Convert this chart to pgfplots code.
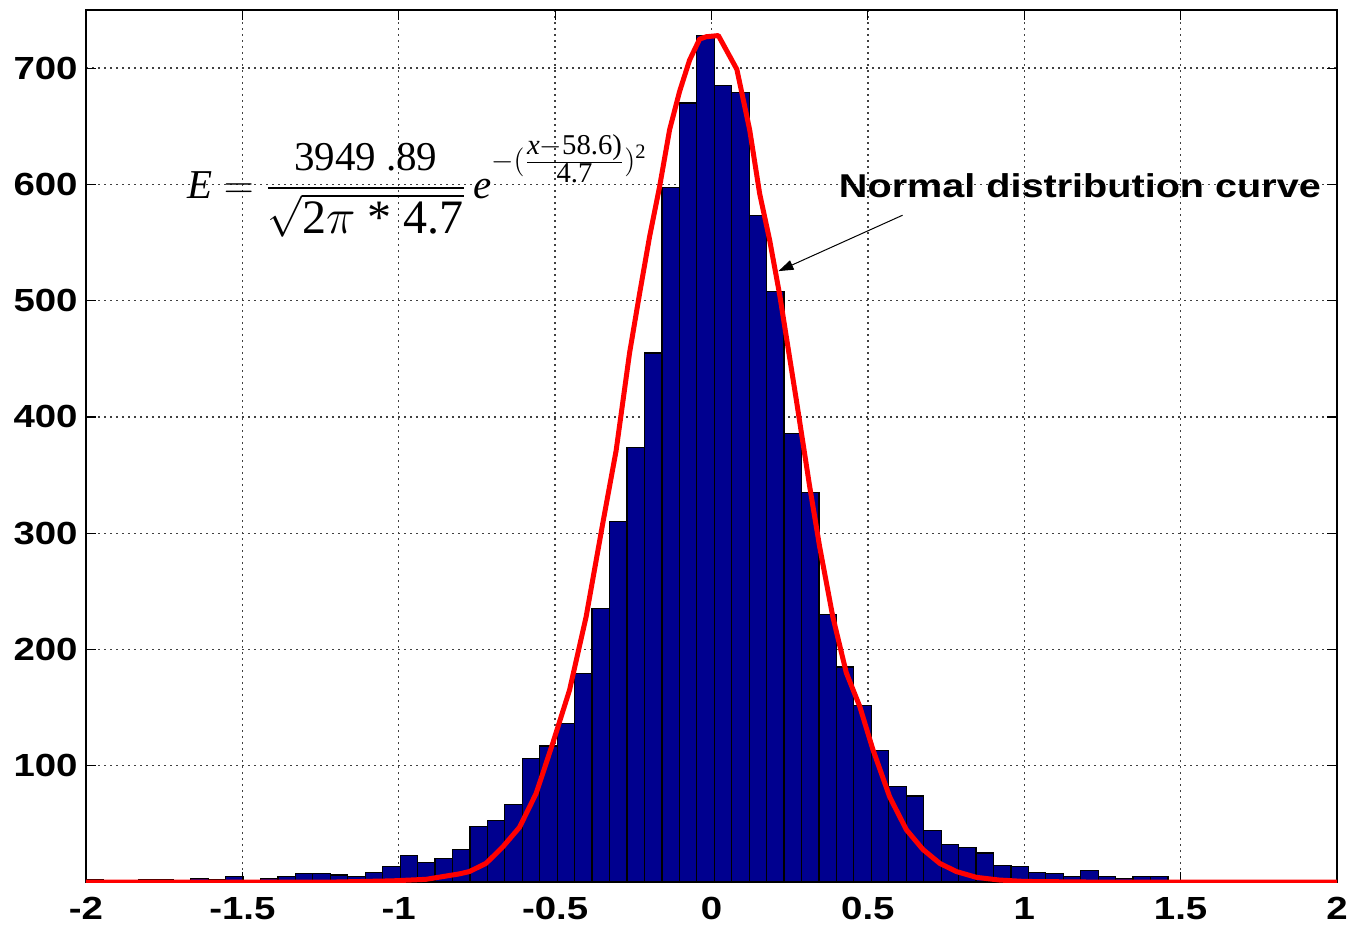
\documentclass[border=0pt]{standalone}
\usepackage{fontspec}
\setmainfont{Liberation Sans}
\newfontfamily\tickfont{Liberation Sans}[FakeStretch=1.2]
\newfontfamily\timesfont{Liberation Serif}
\usepackage{amsmath}
\usepackage{pgfplots}
\pgfplotsset{compat=1.18}
\usetikzlibrary{arrows.meta}
\definecolor{barblue}{RGB}{0,0,143}
\begin{document}
\begin{tikzpicture}
\begin{axis}[
  scale only axis, width=625.5pt, height=436pt,
  xmin=-2, xmax=2, ymin=0, ymax=750,
  xtick={-2,-1.5,-1,-0.5,0,0.5,1,1.5,2},
  xticklabels={-2,-1.5,-1,-0.5,0,0.5,1,1.5,2},
  ytick={100,200,300,400,500,600,700},
  yticklabels={100,200,300,400,500,600,700},
  tick label style={font=\fontsize{16}{19}\selectfont\tickfont\bfseries},
  xticklabel style={inner sep=0pt, yshift=-7.5pt},
  yticklabel style={inner sep=0pt, xshift=-4pt},
  tick align=inside, tick pos=both, major tick length=5pt,
  tick style={black, line width=0.6pt},
  grid=major,
  grid style={black!75, line width=0.7pt, dash pattern=on 0.8pt off 2.2pt},
  axis line style={black, line width=0.8pt},
]
\addplot[ybar interval, fill=barblue, draw=black, line width=0.6pt] coordinates {
(-2.0000,2) (-1.9442,0) (-1.8884,0) (-1.8326,2) (-1.7768,2) (-1.7210,0)
(-1.6652,3) (-1.6094,2) (-1.5536,5) (-1.4978,1) (-1.4420,3) (-1.3862,5)
(-1.3304,7) (-1.2746,7) (-1.2188,6) (-1.1630,5) (-1.1072,8) (-1.0514,13)
(-0.9956,23) (-0.9398,17) (-0.8840,20) (-0.8282,28) (-0.7724,48) (-0.7166,53)
(-0.6608,67) (-0.6050,106) (-0.5492,117) (-0.4934,136) (-0.4376,179) (-0.3818,235)
(-0.3260,310) (-0.2702,374) (-0.2144,455) (-0.1586,597) (-0.1028,670) (-0.0470,728)
(0.0088,685) (0.0646,679) (0.1204,573) (0.1762,508) (0.2320,386) (0.2878,335)
(0.3436,230) (0.3994,185) (0.4552,152) (0.5110,113) (0.5668,82) (0.6226,74)
(0.6784,44) (0.7342,32) (0.7900,30) (0.8458,25) (0.9016,14) (0.9574,13)
(1.0132,8) (1.0690,7) (1.1248,5) (1.1806,10) (1.2364,5) (1.2922,3)
(1.3480,5) (1.4038,5) (1.4596,5)
};
\addplot[red, line width=2.5pt, line join=round] coordinates {
(-2.0,0) (-1.2,0) (-1.02,1) (-0.913,2.3) (-0.806,7) (-0.774,9) (-0.721,16)
(-0.668,30) (-0.614,47) (-0.561,76) (-0.508,119) (-0.454,165) (-0.401,228)
(-0.348,308) (-0.305,371) (-0.262,455) (-0.230,506) (-0.198,555) (-0.166,598)
(-0.134,647) (-0.102,680) (-0.070,707) (-0.038,725) (-0.017,727) (0.022,728)
(0.081,699) (0.122,647) (0.154,592) (0.186,552) (0.218,505) (0.271,415)
(0.314,340) (0.346,288) (0.388,228) (0.431,180) (0.474,151) (0.516,114)
(0.570,73) (0.623,45) (0.676,28) (0.730,16) (0.783,9) (0.847,4) (0.920,1.7)
(1.0,0.5) (1.2,0) (2.0,0)
};
\node[anchor=base west, inner sep=0pt, font=\fontsize{20.5}{24}\selectfont\timesfont] at (axis cs:-1.677,588)
  {$\textit{E} = \dfrac{\text{3949 .89}}{\sqrt{\text{\fontsize{24}{28}\selectfont 2$\pi$ * 4.7}}}\,\textit{e}^{\raisebox{7pt}{$\scriptstyle -(\frac{\scriptstyle \textit{x}-\text{58.6)}}{\scriptstyle \text{4.7}})^{\text{2}}$}}$};
\node[font=\fontsize{16.5}{19}\selectfont\tickfont\bfseries] at (axis cs:1.178,598.5) {Normal distribution curve};
\draw[-{Triangle[length=7.5pt,width=5pt]}, line width=0.5pt, black] (axis cs:0.611,573.5) -- (axis cs:0.214,525.4);
\end{axis}
\pgfresetboundingbox
\path[use as bounding box] ([shift={(-43pt,-22.5pt)}]current axis.south west) rectangle ([shift={(7.5pt,5pt)}]current axis.north east);
\end{tikzpicture}
\end{document}
